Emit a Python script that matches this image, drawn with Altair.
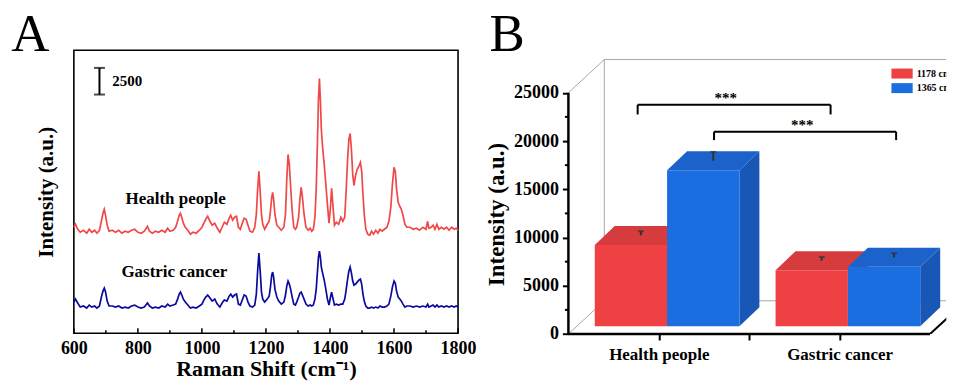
import altair as alt
import pandas as pd

# ---------------- Panel A data: SERS spectra ----------------
raman_shift = [600, 605, 612, 620, 630, 640, 648, 656, 665, 672, 680, 686, 691, 695, 699, 704, 710,
               720, 730, 740, 750, 760, 770, 780, 790, 800, 810, 820, 830, 836, 845, 855, 865, 875, 885, 893, 900,
               910, 918, 924, 929, 933, 937, 942, 948, 956, 964, 972, 982, 992, 1000,
               1006, 1012, 1018, 1025, 1032, 1040, 1048, 1056, 1063, 1070, 1078, 1085, 1090, 1096, 1102, 1108, 1114,
               1120, 1126, 1132, 1138, 1144, 1150, 1158, 1165,
               1170, 1174, 1178, 1182, 1186, 1190, 1196, 1204, 1210, 1214, 1218, 1221, 1224, 1228, 1234, 1240, 1248, 1256,
               1261, 1265, 1269, 1273, 1277, 1282, 1287, 1292, 1296, 1302, 1306, 1310, 1314, 1319, 1325, 1332, 1338, 1343, 1348,
               1353, 1357, 1361, 1364, 1367, 1370, 1373, 1377, 1382, 1387, 1392, 1397, 1401, 1405, 1409, 1414, 1420, 1427, 1434, 1440, 1446,
               1450, 1455, 1459, 1463, 1467, 1471, 1475, 1480, 1485, 1490, 1495, 1499, 1503, 1507, 1512, 1518, 1524, 1530, 1536, 1543, 1550, 1556, 1563,
               1570, 1578, 1584, 1590, 1595, 1600, 1604, 1608, 1613, 1618, 1623, 1628, 1634,
               1640, 1650, 1660, 1670, 1680, 1690, 1700, 1705, 1709, 1716, 1722, 1728, 1734, 1740, 1748, 1756, 1764, 1772, 1780, 1788, 1794, 1800]

health_people = [9940, 10220, 9750, 9470, 9660, 9380, 9750, 9470, 9660, 9380, 9660, 10500, 11250, 11630, 11060, 10130, 9570,
                 9660, 9470, 9660, 9380, 9570, 9470, 9660, 9750, 9470, 9380, 9570, 10030, 9570, 9380, 9570, 9470, 9660, 9470, 9850, 9570,
                 9660, 9940, 10500, 11060, 11250, 10880, 10320, 9940, 9660, 9290, 9470, 9380, 9660, 9940,
                 10320, 10690, 10970, 10500, 10130, 10320, 9850, 9470, 9940, 10410, 10220, 10780, 11060, 10600, 10880, 10970, 9940,
                 9750, 10320, 10780, 10690, 10130, 9570, 9470, 9940,
                 11160, 13500, 15180, 13310, 11160, 10220, 9750, 10220, 10500, 11440, 12750, 13220, 12560, 11160, 10130, 9940, 9660, 9940,
                 11160, 14430, 16770, 15840, 13780, 11440, 9940, 9750, 9940, 10880, 12560, 13680, 12750, 11160, 9940, 9660, 9850, 9570, 9750,
                 10880, 13500, 18180, 21920, 23890, 21920, 19110, 17430, 15840, 13970, 12090, 10320, 11630, 13590, 12090, 10130, 10410, 10220, 10880, 10500, 10880,
                 13030, 16310, 18180, 18740, 17240, 14900, 13870, 14810, 15370, 15650, 16020, 15180, 13030, 11160, 9750, 9290, 9190, 9570, 9290, 9660, 9380, 9750, 9570,
                 9750, 9940, 10500, 11810, 13970, 15560, 15180, 13500, 12280, 11910, 11630, 11060, 10220,
                 9940, 9940, 9750, 9850, 9660, 9940, 9750, 10500, 9850, 9940, 10130, 9750, 10220, 9750, 9940, 9750, 9940, 9660, 9940, 9750, 9850, 9660]

gastric_cancer = [2920, 3200, 2830, 2450, 2550, 2360, 2640, 2450, 2550, 2360, 2550, 3390, 3950, 4230, 3860, 3010, 2550,
                  2550, 2450, 2550, 2360, 2450, 2360, 2550, 2640, 2450, 2360, 2450, 2830, 2550, 2360, 2450, 2360, 2550, 2450, 2730, 2550,
                  2640, 2730, 3200, 3670, 3860, 3580, 3200, 2920, 2640, 2360, 2450, 2360, 2550, 2730,
                  3110, 3390, 3580, 3300, 3010, 3200, 2730, 2450, 2830, 3110, 3010, 3480, 3670, 3390, 3580, 3670, 2730,
                  2640, 3110, 3580, 3480, 2920, 2550, 2450, 2640,
                  3670, 5820, 7510, 5820, 3860, 3200, 2920, 3200, 3480, 4320, 5450, 5730, 5260, 4140, 3390, 3010, 2730, 2920,
                  3580, 4420, 4890, 4610, 4140, 3390, 2730, 2640, 2920, 3390, 3760, 3860, 3580, 3200, 2730, 2550, 2640, 2550, 2640,
                  3200, 4140, 5820, 7130, 7690, 7130, 6200, 5630, 4980, 4140, 3200, 2640, 3300, 3860, 3300, 2640, 2730, 2640, 2730, 2730, 3200,
                  3950, 5070, 5820, 6200, 5630, 4890, 4510, 4610, 4790, 4980, 5070, 4610, 3670, 3010, 2550, 2360, 2360, 2450, 2360, 2450, 2360, 2550, 2450,
                  2450, 2550, 2730, 3480, 4320, 4890, 4700, 3950, 3390, 3200, 3010, 2730, 2450,
                  2550, 2550, 2450, 2550, 2450, 2550, 2450, 2730, 2450, 2550, 2640, 2450, 2640, 2450, 2550, 2450, 2550, 2450, 2550, 2450, 2550, 2450]

assert len(raman_shift) == len(health_people) == len(gastric_cancer)

spectrum_names = ["Health people", "Gastric cancer"]
x_major_ticks = [600, 800, 1000, 1200, 1400, 1600, 1800]
x_minor_ticks = [700, 900, 1100, 1300, 1500, 1700]
scale_bar_value = 2500
scale_bar_shift = 680
scale_bar_bottom = 22390
name_label_shift = [918, 914]
name_label_intensity = [12560, 5760]

# ---------------- Panel B data: band intensities ----------------
group_names = ["Health people", "Gastric cancer"]
band_names = ["1178 cm⁻¹", "1365 cm⁻¹"]
mean_1178 = [8440, 5820]
mean_1365 = [16170, 6165]
sd_1178 = [430, 390]
sd_1365 = [920, 430]
y_ticks_b = [0, 5000, 10000, 15000, 20000, 25000]
y_minor_ticks_b = [2500, 7500, 12500, 17500, 22500]
significance = ["***", "***"]
bracket_x1 = [0.766, 1.611]
bracket_x2 = [2.90, 3.625]
bracket_y = [23754, 20962]
bracket_leg = [22751, 20093]
star_x = [1.741, 2.587]
star_y = [23900, 21110]
panel_letters = ["A", "B"]

FONT = "Liberation Serif"

# ======================= Panel A =======================
WA, HA = 385, 283.5
sxA = alt.Scale(domain=[600, 1800], nice=False, zero=False)
syA = alt.Scale(domain=[0, 26540], nice=False, zero=False)

x_axis_A = alt.Axis(values=x_major_ticks, format="d", domain=False, ticks=False, tickSize=0, grid=False,
                    labelFontSize=18, labelFontWeight="bold", labelColor="black", labelPadding=6,
                    labelFlush=False, labelOverlap=False,
                    title="Raman Shift (cm⁻¹)", titleFontSize=22, titleFontWeight="bold",
                    titleColor="black", titleY=42.8, titleBaseline="alphabetic")
y_axis_A = alt.Axis(domain=False, ticks=False, labels=False, grid=False,
                    title="Intensity (a.u.)", titleFontSize=21, titleFontWeight="bold",
                    titleColor="black", titleX=-27, titleY=HA / 2, titleBaseline="middle")


def XA(f):
    return alt.X(f, type="quantitative", scale=sxA, axis=x_axis_A)


def YA(f):
    return alt.Y(f, type="quantitative", scale=syA, axis=y_axis_A)


n = len(raman_shift)
spec = pd.DataFrame({
    "shift": raman_shift * 2,
    "intensity": health_people + gastric_cancer,
    "sample": [spectrum_names[0]] * n + [spectrum_names[1]] * n,
})

lines = alt.Chart(spec).mark_line(strokeWidth=1.7).encode(
    x=XA("shift"), y=YA("intensity"),
    color=alt.Color("sample:N", scale=alt.Scale(domain=spectrum_names, range=["#F04848", "#0A0A9E"]), legend=None),
)

major_ticks = alt.Chart(pd.DataFrame({"shift": x_major_ticks})).mark_rule(color="black", strokeWidth=1.5).encode(
    x=XA("shift"), y=alt.value(HA), y2=alt.value(HA - 5))
minor_ticks = alt.Chart(pd.DataFrame({"shift": x_minor_ticks})).mark_rule(color="black", strokeWidth=1.5).encode(
    x=XA("shift"), y=alt.value(HA), y2=alt.value(HA - 3))

sb_df = pd.DataFrame({"shift": [scale_bar_shift], "lo": [scale_bar_bottom], "hi": [scale_bar_bottom + scale_bar_value]})
sb_rule = alt.Chart(sb_df).mark_rule(color="black", strokeWidth=2).encode(x=XA("shift"), y=YA("lo"), y2="hi:Q")
sb_caps = alt.Chart(pd.DataFrame({"shift": [scale_bar_shift] * 2,
                                  "v": [scale_bar_bottom, scale_bar_bottom + scale_bar_value]})).mark_tick(
    orient="horizontal", size=11, thickness=2, color="black").encode(x=XA("shift"), y=YA("v"))
sb_text = alt.Chart(pd.DataFrame({"shift": [scale_bar_shift + 40], "v": [scale_bar_bottom + scale_bar_value / 2],
                                  "t": [str(scale_bar_value)]})).mark_text(
    align="left", baseline="middle", fontSize=15, fontWeight="bold", color="black").encode(
    x=XA("shift"), y=YA("v"), text="t:N")

name_text = alt.Chart(pd.DataFrame({"shift": name_label_shift, "v": name_label_intensity, "t": spectrum_names})).mark_text(
    align="center", baseline="middle", fontSize=17, fontWeight="bold", color="black").encode(
    x=XA("shift"), y=YA("v"), text="t:N")

letter_A = alt.Chart(pd.DataFrame({"t": [panel_letters[0]]})).mark_text(
    align="left", baseline="alphabetic", fontSize=53, fontWeight="normal", color="black").encode(
    text="t:N", x=alt.value(-62.7), y=alt.value(1))

panelA = alt.layer(lines, major_ticks, minor_ticks, sb_rule, sb_caps, sb_text, name_text, letter_A).properties(
    width=WA, height=HA, view=alt.ViewBackground(stroke="black", strokeWidth=1.6))

# ======================= Panel B =======================
WB, HB = 378.7, 284.3
XB_MAX = 4.18
sxB = alt.Scale(domain=[0, XB_MAX], nice=False, zero=False)
syB = alt.Scale(domain=[0, 29400], nice=False, zero=False)
GPOS = [1, 3]
BW = 0.8
WALL_DX, WALL_DY = 0.397, 3444
BAR_DX, BAR_DY = 0.221, 1965
OFF = dict(xOffset=8.3, x2Offset=8.3, yOffset=-7.7, y2Offset=-7.7)
front_colors = ["#EF4144", "#1A6EE0"]
top_colors = ["#D63B3E", "#1C62CB"]
side_colors = ["#C43437", "#1857B5"]

label_expr = " : ".join([f"datum.value == {GPOS[i]} ? '{group_names[i]}'" for i in range(len(group_names))]) + " : ''"
x_axis_B = alt.Axis(values=[1, 2, 3], labelExpr=label_expr, domain=False, grid=False,
                    tickSize=6, tickWidth=2, tickColor="black",
                    labelFontSize=17, labelFontWeight="bold", labelColor="black", labelPadding=7,
                    labelOverlap=False, labelFlush=False, title="")
y_axis_B = alt.Axis(values=y_ticks_b, format="d", domain=False, grid=False, tickSize=6, tickWidth=2, tickColor="black",
                    labelFontSize=18, labelFontWeight="bold", labelColor="black", labelPadding=4,
                    labelOverlap=False, labelFlush=False,
                    title="Intensity (a.u.)", titleFontSize=23, titleFontWeight="bold", titleColor="black",
                    titleX=-72, titleY=164, titleBaseline="middle")


def XB(f):
    return alt.X(f, type="quantitative", scale=sxB, axis=x_axis_B)


def YB(f):
    return alt.Y(f, type="quantitative", scale=syB, axis=y_axis_B)


ytop = y_ticks_b[-1]
xend = 2 * len(group_names)
wall_df = pd.DataFrame({
    "x":  [0, WALL_DX, WALL_DX, 0, WALL_DX],
    "y":  [ytop, WALL_DY, ytop + WALL_DY, 0, WALL_DY],
    "x2": [WALL_DX, WALL_DX, XB_MAX, WALL_DX, XB_MAX],
    "y2": [ytop + WALL_DY, ytop + WALL_DY, ytop + WALL_DY, WALL_DY, WALL_DY],
})
wall = alt.Chart(wall_df).mark_rule(color="#A8A8A8", strokeWidth=1, clip=True).encode(
    x=XB("x"), y=YB("y"), x2="x2:Q", y2="y2:Q")
floor_edge = alt.Chart(pd.DataFrame({"x": [xend], "y": [0], "x2": [xend + WALL_DX], "y2": [WALL_DY]})).mark_rule(
    color="black", strokeWidth=2, clip=True).encode(x=XB("x"), y=YB("y"), x2="x2:Q", y2="y2:Q")

means = [mean_1178, mean_1365]
sds = [sd_1178, sd_1365]
rows = []
for gi, g in enumerate(group_names):
    for si, b in enumerate(band_names):
        xl = GPOS[gi] - BW + si * BW
        rows.append(dict(group=g, band=b, id=f"{gi}-{si}", xl=xl, xr=xl + BW,
                         v=means[si][gi], sd=sds[si][gi], base=0))
bars = pd.DataFrame(rows)

top_rows, side_rows, err_rows = [], [], []
for r in rows:
    top_rows.append(dict(band=r["band"], id=r["id"], y=r["v"], xa=r["xl"], xb=r["xr"]))
    top_rows.append(dict(band=r["band"], id=r["id"], y=r["v"] + BAR_DY, xa=r["xl"] + BAR_DX, xb=r["xr"] + BAR_DX))
    side_rows.append(dict(band=r["band"], id=r["id"], x=r["xr"], ya=r["v"], yb=0))
    side_rows.append(dict(band=r["band"], id=r["id"], x=r["xr"] + BAR_DX, ya=r["v"] + BAR_DY, yb=BAR_DY))
    cx = (r["xl"] + r["xr"]) / 2 + BAR_DX / 2
    y0 = r["v"] + BAR_DY / 2
    err_rows.append(dict(band=r["band"], x=cx, y0=y0, y1=y0 + r["sd"]))
top_df = pd.DataFrame(top_rows)
side_df = pd.DataFrame(side_rows)
err_df = pd.DataFrame(err_rows)

face_layers = []
for si, b in enumerate(band_names):
    face_layers.append(alt.Chart(side_df[side_df["band"] == b]).mark_area(
        orient="vertical", color=side_colors[si], **OFF).encode(
        x=XB("x"), y=YB("ya"), y2="yb:Q", detail="id:N"))
    face_layers.append(alt.Chart(top_df[top_df["band"] == b]).mark_area(
        orient="horizontal", color=top_colors[si], **OFF).encode(
        y=YB("y"), x=XB("xa"), x2="xb:Q", detail="id:N"))

band_color = alt.Scale(domain=band_names, range=front_colors)
fronts = alt.Chart(bars).mark_rect(**OFF).encode(
    x=XB("xl"), x2="xr:Q", y=YB("v"), y2="base:Q",
    color=alt.Color("band:N", scale=band_color, legend=None))

err_rule = alt.Chart(err_df).mark_rule(color="#333333", strokeWidth=2, **OFF).encode(
    x=XB("x"), y=YB("y0"), y2="y1:Q")
err_cap = alt.Chart(err_df).mark_tick(orient="horizontal", size=6, thickness=2, color="#333333",
                                      xOffset=8.3, yOffset=-7.7).encode(x=XB("x"), y=YB("y1"))

x_line = alt.Chart(pd.DataFrame({"x": [0], "x2": [xend], "y": [0]})).mark_rule(color="black", strokeWidth=2.5).encode(
    x=XB("x"), x2="x2:Q", y=YB("y"))
y_line = alt.Chart(pd.DataFrame({"x": [0], "y": [0], "y2": [ytop]})).mark_rule(color="black", strokeWidth=2.5).encode(
    x=XB("x"), y=YB("y"), y2="y2:Q")
minor_B = alt.Chart(pd.DataFrame({"v": y_minor_ticks_b})).mark_rule(color="black", strokeWidth=2).encode(
    y=YB("v"), x=alt.value(-3.5), x2=alt.value(0))

br_df = pd.DataFrame({"x1": bracket_x1, "x2": bracket_x2, "y": bracket_y, "leg": bracket_leg})
br_h = alt.Chart(br_df).mark_rule(color="black", strokeWidth=2).encode(x=XB("x1"), x2="x2:Q", y=YB("y"))
legs_df = pd.DataFrame({"x": bracket_x1 + bracket_x2, "y": bracket_y * 2, "leg": bracket_leg * 2})
br_v = alt.Chart(legs_df).mark_rule(color="black", strokeWidth=2).encode(x=XB("x"), y=YB("y"), y2="leg:Q")
stars = alt.Chart(pd.DataFrame({"x": star_x, "y": star_y, "t": significance})).mark_text(
    align="center", baseline="alphabetic", fontSize=15, fontWeight="bold", color="black").encode(
    x=XB("x"), y=YB("y"), text="t:N")

# legend (drawn inside the plot box, clipped at its right edge like the original)
legend_layers = []
for si, b in enumerate(band_names):
    ldf = pd.DataFrame({"band": [b]})
    row_y = 18.3 + si * 14.6
    legend_layers.append(alt.Chart(ldf).mark_rect().encode(
        x=alt.value(323.7), x2=alt.value(345), y=alt.value(row_y), y2=alt.value(row_y + 10),
        color=alt.Color("band:N", scale=band_color, legend=None)))
    legend_layers.append(alt.Chart(ldf).mark_text(
        align="left", baseline="middle", fontSize=10, fontWeight="bold", color="black", clip=True).encode(
        x=alt.value(349), y=alt.value(row_y + 5.3), text="band:N"))

letter_B = alt.Chart(pd.DataFrame({"t": [panel_letters[1]]})).mark_text(
    align="left", baseline="alphabetic", fontSize=53, fontWeight="normal", color="black").encode(
    text="t:N", x=alt.value(-79), y=alt.value(1))

panelB = alt.layer(wall, floor_edge, *face_layers, fronts, err_rule, err_cap, x_line, y_line, minor_B,
                   br_h, br_v, stars, *legend_layers, letter_B).properties(width=WB, height=HB)

chart = alt.hconcat(panelA, panelB, spacing=110.6, bounds="flush").resolve_scale(
    color="independent", x="independent", y="independent").properties(
    padding={"left": 2, "top": 0, "right": 0, "bottom": 0}).configure(font=FONT).configure_view(strokeWidth=0)

chart.save("out.html", embed_options={"renderer": "svg", "actions": False})
